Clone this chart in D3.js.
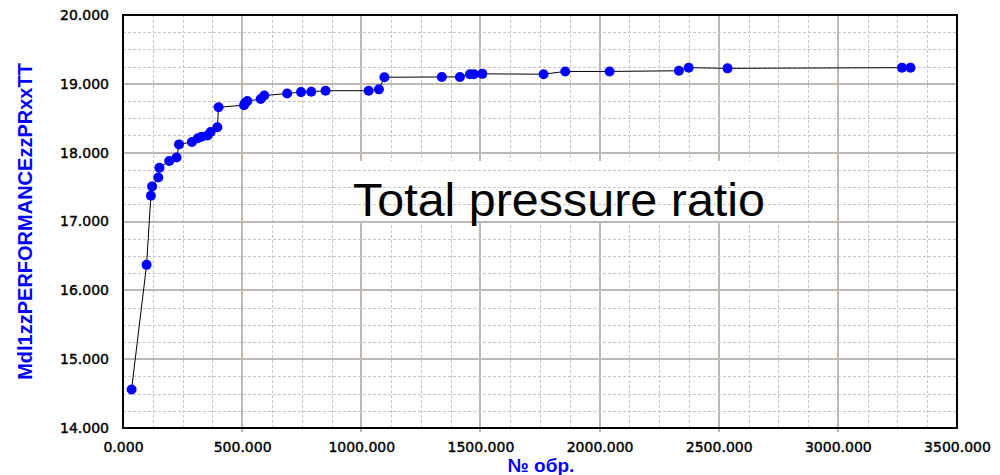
<!DOCTYPE html>
<html>
<head>
<meta charset="utf-8">
<script src="https://cdn.jsdelivr.net/npm/d3@7"></script>
<style>
  body { margin: 0; background: #fff; }
  svg { display: block; }
</style>
</head>
<body>
<div id="chart"></div>
<script>
// sample number (x) and total pressure ratio (y)
var sampleNo = [36, 99, 117, 122, 148, 153, 194, 225, 235, 289, 314, 330, 355, 368, 396, 401,
  508, 512, 522, 578, 593, 689, 747, 790, 850, 1031, 1074, 1097,
  1338, 1414, 1456, 1473, 1508, 1765, 1856, 2042, 2333, 2374, 2537, 3269, 3305];
var pressureRatio = [14.56, 16.37, 17.375, 17.51, 17.64, 17.78, 17.88, 17.93, 18.12, 18.155, 18.21, 18.23, 18.25, 18.30, 18.37, 18.66,
  18.69, 18.72, 18.75, 18.78, 18.83, 18.86, 18.88, 18.885, 18.90, 18.90, 18.92, 19.095,
  19.10, 19.10, 19.14, 19.14, 19.145, 19.14, 19.18, 19.18, 19.19, 19.235, 19.225, 19.235, 19.235];

var xTicks = [0, 500, 1000, 1500, 2000, 2500, 3000, 3500];
var yTicks = [14, 15, 16, 17, 18, 19, 20];
var xMinor = d3.range(0, 3501, 125);
var yMinor = d3.range(14, 20.001, 0.25);

var yTitle = "Mdl1zzPERFORMANCEzzPRxxTT";
var xTitle = "№ обр.";
var chartLabel = "Total pressure ratio";

var width = 1000, height = 475;
var margin = {top: 15, right: 43, bottom: 47, left: 123};

var svg = d3.select("#chart").append("svg")
  .attr("width", width)
  .attr("height", height);

var x = d3.scaleLinear().domain([0, 3500]).range([margin.left, width - margin.right]);
var y = d3.scaleLinear().domain([14, 20]).range([height - margin.bottom, margin.top]);

var x0 = x.range()[0], x1 = x.range()[1];
var y0 = y.range()[0], y1 = y.range()[1];

// vertical grid (minor dashed, then major)
var vgrid = svg.append("g");
vgrid.selectAll("line.minor")
  .data(xMinor.filter(d => d % 500 != 0))
  .enter().append("line")
  .attr("x1", d => Math.round(x(d)) + 0.5).attr("x2", d => Math.round(x(d)) + 0.5)
  .attr("y1", y1).attr("y2", y0)
  .style("stroke", "#c9c4bf").style("stroke-width", 1).style("stroke-dasharray", "3,2");
vgrid.selectAll("line.major")
  .data(xTicks.slice(1, -1))
  .enter().append("line")
  .attr("x1", d => Math.round(x(d))).attr("x2", d => Math.round(x(d)))
  .attr("y1", y1).attr("y2", y0 + 4)
  .style("stroke", "#bdb8b3").style("stroke-width", 2);

// white box behind the chart label
svg.append("rect")
  .attr("x", 348).attr("y", 161).attr("width", 454).attr("height", 62)
  .style("fill", "#fff");

// horizontal grid
var hgrid = svg.append("g");
hgrid.selectAll("line.minor")
  .data(yMinor.filter(d => Math.abs(d - Math.round(d)) > 0.01))
  .enter().append("line")
  .attr("x1", x0).attr("x2", x1)
  .attr("y1", d => Math.round(y(d)) + 0.5).attr("y2", d => Math.round(y(d)) + 0.5)
  .style("stroke", "#c9c4bf").style("stroke-width", 1).style("stroke-dasharray", "3,2");
hgrid.selectAll("line.major")
  .data(yTicks.slice(1, -1))
  .enter().append("line")
  .attr("x1", x0).attr("x2", x1)
  .attr("y1", d => Math.round(y(d))).attr("y2", d => Math.round(y(d)))
  .style("stroke", "#bdb8b3").style("stroke-width", 2);

// chart label
svg.append("text")
  .attr("x", 353).attr("y", 216)
  .attr("textLength", 412)
  .attr("lengthAdjust", "spacingAndGlyphs")
  .style("font", "46px 'Liberation Sans', Arial, sans-serif")
  .style("fill", "#000")
  .text(chartLabel);

// series line
var pts = sampleNo.map((v, i) => [v, pressureRatio[i]]);
var line = d3.line().x(d => x(d[0])).y(d => y(d[1]));
svg.append("path")
  .datum(pts)
  .attr("d", line)
  .style("fill", "none")
  .style("stroke", "#000")
  .style("stroke-width", 1);

svg.append("g").selectAll("circle")
  .data(pts)
  .enter().append("circle")
  .attr("cx", d => x(d[0]))
  .attr("cy", d => y(d[1]))
  .attr("r", 5)
  .style("fill", "#0000ff");

// frame
svg.append("rect")
  .attr("x", x0).attr("y", y1)
  .attr("width", x1 - x0).attr("height", y0 - y1)
  .style("fill", "none").style("stroke", "#000").style("stroke-width", 2);

// axes
var fmt = d3.format(".3f");
var yAxis = svg.append("g")
  .attr("transform", "translate(" + x0 + ",0)")
  .call(d3.axisLeft(y).tickValues(yTicks).tickFormat(fmt).tickSize(0).tickPadding(14));
var xAxis = svg.append("g")
  .attr("transform", "translate(0," + y0 + ")")
  .call(d3.axisBottom(x).tickValues(xTicks).tickFormat(fmt).tickSize(0).tickPadding(14));
[xAxis, yAxis].forEach(function(a) {
  a.select(".domain").remove();
  a.selectAll("text")
    .style("font", "14px 'DejaVu Sans', Verdana, sans-serif")
    .style("fill", "#000")
    .style("stroke", "#000")
    .style("stroke-width", 0.4);
});

// axis titles
svg.append("text")
  .attr("transform", "translate(32," + (y0 + y1) / 2 + ") rotate(-90)")
  .attr("text-anchor", "middle")
  .style("font", "bold 20px 'Liberation Sans', Arial, sans-serif")
  .style("fill", "#0000ff")
  .text(yTitle);

svg.append("text")
  .attr("x", 541).attr("y", 472)
  .attr("text-anchor", "middle")
  .style("font", "bold 19px 'Liberation Sans', Arial, sans-serif")
  .style("fill", "#0000ff")
  .text(xTitle);
</script>
</body>
</html>
